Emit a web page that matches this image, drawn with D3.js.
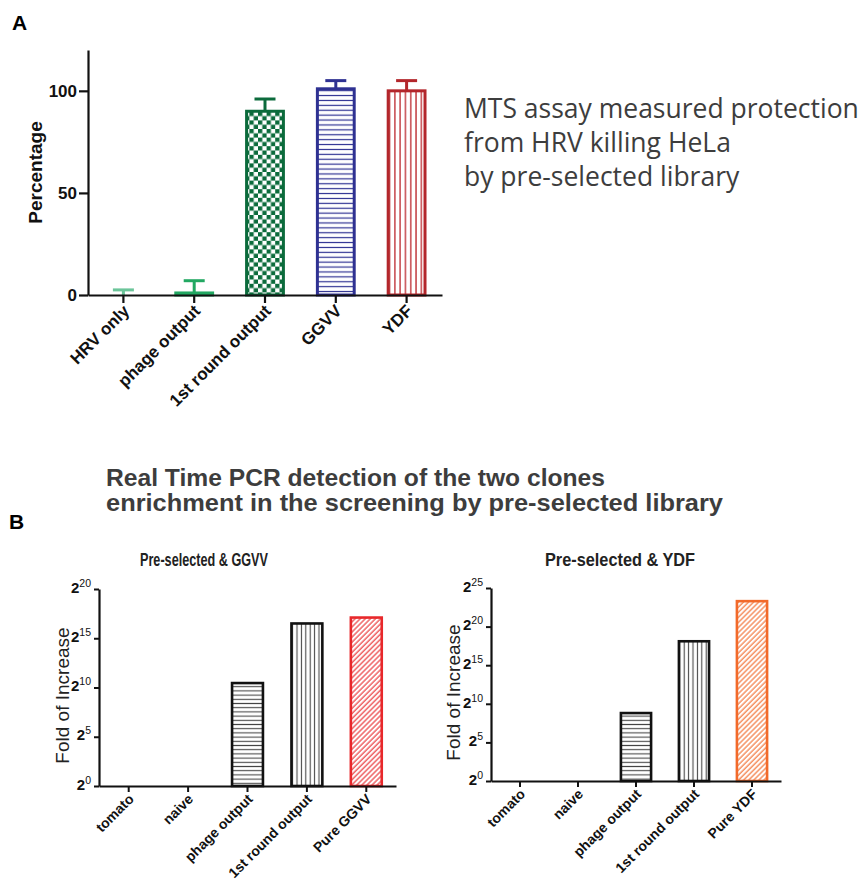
<!DOCTYPE html>
<html>
<head>
<meta charset="utf-8">
<script src="https://cdn.jsdelivr.net/npm/d3@7"></script>
<style>
  body { margin: 0; background: #fff; }
  svg { display: block; }
</style>
</head>
<body>
<div id="chart"></div>
<script>
// Panel A: MTS assay
const aCats = ['HRV only', 'phage output', '1st round output', 'GGVV', 'YDF'];
const aValues = [0, 1, 90, 101, 100];
const aErrors = [2.5, 6, 6, 4, 5];
const aTicks = [0, 50, 100];

// Panel B: real time PCR, fold of increase
const bCatsGGVV = ['tomato', 'naive', 'phage output', '1st round output', 'Pure GGVV'];
const bFoldGGVV = [1, 1, 1400, 92700, 140600];
const bCatsYDF = ['tomato', 'naive', 'phage output', '1st round output', 'Pure YDF'];
const bFoldYDF = [1, 1, 446, 281000, 10300000];
const bExpGGVV = [0, 5, 10, 15, 20];
const bExpYDF = [0, 5, 10, 15, 20, 25];

const W = 862, H = 880;
const AX = "'Liberation Sans', Arial, sans-serif";

const svg = d3.select('#chart').append('svg')
  .attr('width', W).attr('height', H)
  .attr('viewBox', `0 0 ${W} ${H}`);

const defs = svg.append('defs');

// fill patterns
function linePattern(id, w, h, color, sw, vertical) {
  const p = defs.append('pattern').attr('id', id)
    .attr('patternUnits', 'userSpaceOnUse').attr('width', w).attr('height', h);
  p.append('rect').attr('width', w).attr('height', h).attr('fill', '#fff');
  if (vertical) {
    p.append('line').attr('x1', w / 2).attr('x2', w / 2).attr('y1', 0).attr('y2', h)
      .attr('stroke', color).attr('stroke-width', sw);
  } else {
    p.append('line').attr('x1', 0).attr('x2', w).attr('y1', h / 2).attr('y2', h / 2)
      .attr('stroke', color).attr('stroke-width', sw);
  }
  return p;
}
{
  const s = 4.3;
  const p = defs.append('pattern').attr('id', 'checkA')
    .attr('patternUnits', 'userSpaceOnUse').attr('width', s * 2).attr('height', s * 2);
  p.append('rect').attr('width', s * 2).attr('height', s * 2).attr('fill', '#fff');
  p.append('rect').attr('width', s).attr('height', s).attr('fill', '#0c6b3c');
  p.append('rect').attr('x', s).attr('y', s).attr('width', s).attr('height', s).attr('fill', '#0c6b3c');
}
linePattern('hlineA', 10, 4.9, '#2e3192', 1.2, false);
linePattern('vlineA', 5.3, 10, '#c0353a', 1.4, true);
linePattern('hlineB', 10, 4.2, '#444', 1.1, false);
linePattern('vlineB', 4.4, 10, '#444', 1.1, true);
function diagPattern(id, color) {
  const p = defs.append('pattern').attr('id', id)
    .attr('patternUnits', 'userSpaceOnUse').attr('width', 3.6).attr('height', 3.6)
    .attr('patternTransform', 'rotate(45)');
  p.append('rect').attr('width', 3.6).attr('height', 3.6).attr('fill', '#fff');
  p.append('line').attr('x1', 1).attr('x2', 1).attr('y1', 0).attr('y2', 3.6)
    .attr('stroke', color).attr('stroke-width', 1.1);
}
diagPattern('diagRed', '#e8282b');
diagPattern('diagOrange', '#f26a2a');

// ---------- Panel A ----------
const aStyle = [
  { stroke: '#6cc59a', fill: '#fff' },
  { stroke: '#22a862', fill: '#fff' },
  { stroke: '#0c6b3c', fill: 'url(#checkA)' },
  { stroke: '#2e3192', fill: 'url(#hlineA)' },
  { stroke: '#b3262b', fill: 'url(#vlineA)' }
];

svg.append('text').attr('x', 12).attr('y', 30)
  .attr('font-family', AX).attr('font-weight', 'bold').attr('font-size', 21).text('A');

const xA = d3.scaleBand().domain(aCats).range([88, 442]).paddingInner(0.48).paddingOuter(0.24);
const yA = d3.scaleLinear().domain([0, 120]).range([295, 50]);

const gA = svg.append('g');

// bars
aCats.forEach((c, i) => {
  const st = aStyle[i];
  const x0 = xA(c), bw = xA.bandwidth();
  const top = yA(aValues[i]);
  if (aValues[i] > 0) {
    gA.append('rect').attr('x', x0).attr('y', top)
      .attr('width', bw).attr('height', yA(0) - top)
      .attr('fill', st.fill).attr('stroke', st.stroke).attr('stroke-width', 3);
  }
  // error bar (upper only)
  const cx = x0 + bw / 2;
  const eTop = yA(aValues[i] + aErrors[i]);
  gA.append('line').attr('x1', cx).attr('x2', cx).attr('y1', top).attr('y2', eTop)
    .attr('stroke', st.stroke).attr('stroke-width', 3);
  gA.append('line').attr('x1', cx - 10.5).attr('x2', cx + 10.5).attr('y1', eTop).attr('y2', eTop)
    .attr('stroke', st.stroke).attr('stroke-width', 3);
});

const yAxA = gA.append('g').attr('transform', 'translate(88,0)')
  .call(d3.axisLeft(yA).tickValues(aTicks).tickSize(9).tickSizeOuter(0).tickPadding(2));
const xAxA = gA.append('g').attr('transform', `translate(0,${yA(0)})`)
  .call(d3.axisBottom(xA).tickSize(8).tickSizeOuter(0).tickFormat(''));
[yAxA, xAxA].forEach(ax => {
  ax.select('.domain').attr('stroke', '#111').attr('stroke-width', 2.2);
  ax.selectAll('line').attr('stroke', '#111').attr('stroke-width', 2.2);
});
yAxA.selectAll('text').attr('font-family', AX).attr('font-weight', 'bold')
  .attr('font-size', 17).attr('fill', '#111');

aCats.forEach(c => {
  const cx = xA(c) + xA.bandwidth() / 2;
  gA.append('text')
    .attr('transform', `translate(${cx + 7},${yA(0) + 17}) rotate(-45)`)
    .attr('text-anchor', 'end')
    .attr('font-family', AX).attr('font-weight', 'bold').attr('font-size', 17)
    .attr('fill', '#111').text(c);
});

gA.append('text')
  .attr('transform', `translate(42,${yA(60)}) rotate(-90)`)
  .attr('text-anchor', 'middle')
  .attr('font-family', AX).attr('font-weight', 'bold').attr('font-size', 19)
  .attr('fill', '#111').text('Percentage');

const mts = ['MTS assay measured protection', 'from HRV killing HeLa', 'by pre-selected library'];
svg.append('g').selectAll('text').data(mts).join('text')
  .attr('x', 464).attr('y', (d, i) => 118 + i * 34)
  .attr('font-family', "'Open Sans', sans-serif").attr('font-size', 26.5)
  .attr('fill', '#3d3d3d').text(d => d);

// ---------- Panel B ----------
svg.append('text').attr('x', 9).attr('y', 529)
  .attr('font-family', AX).attr('font-weight', 'bold').attr('font-size', 21).text('B');

const bTitle = ['Real Time PCR detection of the two clones',
  'enrichment in the screening by pre-selected library'];
const bTitleLen = [499, 617];
svg.append('g').selectAll('text').data(bTitle).join('text')
  .attr('x', 106).attr('y', (d, i) => 486 + i * 25)
  .attr('textLength', (d, i) => bTitleLen[i]).attr('lengthAdjust', 'spacingAndGlyphs')
  .attr('font-family', "'Liberation Sans Narrow', 'Liberation Sans', sans-serif")
  .attr('font-weight', 'bold').attr('font-size', 24)
  .attr('fill', '#3d3d3d').text(d => d);

function drawFold(opts) {
  const { cats, folds, exps, x0, x1, yBot, yTop, title, titleX, titleLen, labelX, fills } = opts;
  const maxExp = exps[exps.length - 1];
  const x = d3.scaleBand().domain(cats).range([x0, x1]).paddingInner(0.48).paddingOuter(0.24);
  const y = d3.scaleLog().base(2).domain([1, Math.pow(2, maxExp)]).range([yBot, yTop]);
  const g = svg.append('g');

  g.append('text').attr('x', titleX).attr('y', 566).attr('text-anchor', 'middle')
    .attr('textLength', titleLen).attr('lengthAdjust', 'spacingAndGlyphs')
    .attr('font-family', "'Liberation Sans Narrow', 'Liberation Sans', sans-serif")
    .attr('font-weight', 'bold').attr('font-size', 17.5).attr('fill', '#222').text(title);

  cats.forEach((c, i) => {
    if (folds[i] <= 1) return;
    const top = y(folds[i]);
    g.append('rect').attr('x', x(c)).attr('y', top)
      .attr('width', x.bandwidth()).attr('height', yBot - top)
      .attr('fill', fills[i].fill).attr('stroke', fills[i].stroke).attr('stroke-width', 2.6);
  });

  const yAx = g.append('g').attr('transform', `translate(${x0},0)`)
    .call(d3.axisLeft(y).tickValues(exps.map(e => Math.pow(2, e)))
      .tickSize(5).tickSizeOuter(0).tickPadding(3).tickFormat(''));
  const xAx = g.append('g').attr('transform', `translate(0,${yBot})`)
    .call(d3.axisBottom(x).tickSize(6).tickSizeOuter(0).tickFormat(''));
  [yAx, xAx].forEach(ax => {
    ax.select('.domain').attr('stroke', '#111').attr('stroke-width', 2.2);
    ax.selectAll('line').attr('stroke', '#111').attr('stroke-width', 2);
  });
  yAx.selectAll('.tick text').each(function (v) {
    const t = d3.select(this).attr('font-family', AX).attr('fill', '#111');
    t.append('tspan').attr('font-weight', 'bold').attr('font-size', 15).text('2');
    t.append('tspan').attr('font-size', 10.5).attr('dy', -6).text(Math.round(Math.log2(v)));
  });

  cats.forEach(c => {
    const cx = x(c) + x.bandwidth() / 2;
    g.append('text')
      .attr('transform', `translate(${cx + 6},${yBot + 14}) rotate(-45)`)
      .attr('text-anchor', 'end')
      .attr('font-family', AX).attr('font-weight', 'bold').attr('font-size', 14)
      .attr('fill', '#111').text(c);
  });

  g.append('text')
    .attr('transform', `translate(${labelX},${(yBot + yTop) / 2 + 8}) rotate(-90)`)
    .attr('text-anchor', 'middle')
    .attr('font-family', AX).attr('font-size', 19)
    .attr('fill', '#222').text('Fold of Increase');
}

const bBlack = [
  { fill: '#fff', stroke: '#111' },
  { fill: '#fff', stroke: '#111' },
  { fill: 'url(#hlineB)', stroke: '#111' },
  { fill: 'url(#vlineB)', stroke: '#111' }
];

drawFold({
  cats: bCatsGGVV, folds: bFoldGGVV, exps: bExpGGVV,
  x0: 99, x1: 396, yBot: 786, yTop: 589,
  title: 'Pre-selected & GGVV', titleX: 204, titleLen: 128, labelX: 69,
  fills: [...bBlack, { fill: 'url(#diagRed)', stroke: '#e8282b' }]
});
drawFold({
  cats: bCatsYDF, folds: bFoldYDF, exps: bExpYDF,
  x0: 491, x1: 781, yBot: 781, yTop: 588,
  title: 'Pre-selected & YDF', titleX: 620, titleLen: 150, labelX: 460,
  fills: [...bBlack, { fill: 'url(#diagOrange)', stroke: '#f26a2a' }]
});
</script>
</body>
</html>
